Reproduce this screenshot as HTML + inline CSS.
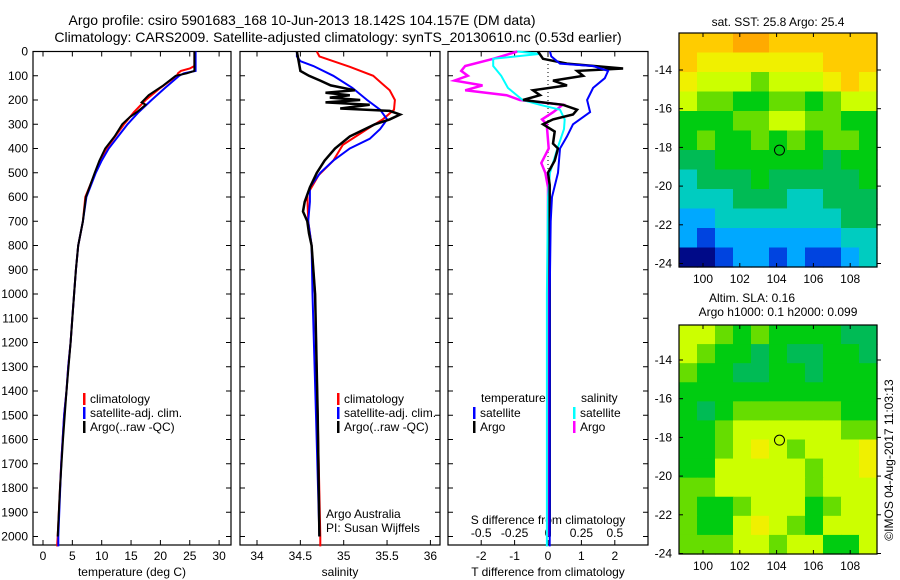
<!DOCTYPE html>
<html><head><meta charset="utf-8"><style>
body{margin:0;background:#fff;}
svg{display:block;font-family:"Liberation Sans",sans-serif;font-size:12px;}
</style></head><body>
<svg id="chart" width="900" height="580" viewBox="0 0 900 580">
<text x="302" y="25" text-anchor="middle" font-size="14">Argo profile: csiro 5901683_168 10-Jun-2013 18.142S 104.157E (DM data)</text>
<text x="338" y="42" text-anchor="middle" font-size="14">Climatology: CARS2009. Satellite-adjusted climatology: synTS_20130610.nc (0.53d earlier)</text>
<g id="g"></g>
</svg>
<script>
// ---- data ----
const depthTicks=[0,100,200,300,400,500,600,700,800,900,1000,1100,1200,1300,1400,1500,1600,1700,1800,1900,2000];
const tTicks=[0,5,10,15,20,25,30];
const sTicks=[34,34.5,35,35.5,36];
const dTTicks=[-2,-1,0,1,2];
const dSTicks=[-0.5,-0.25,0,0.25,0.5];
const tempDepth=[0,60,70,80,90,100,150,200,250,300,350,400,450,500,600,700,800,900,1000,1100,1200,1300,1400,1500,1700,2000,2041];
const tempClim=[25.8,25.8,25,23.5,23,22.8,20,17.5,15.5,13.8,12.3,10.8,9.8,8.9,7.2,6.8,6.0,5.6,5.3,5.0,4.7,4.3,4.0,3.6,3.1,2.5,2.4];
const tempSat=[26,26,26,26,24,23.2,20.8,18.5,16.3,14.4,12.8,11.2,10,9,7.4,6.8,6.0,5.6,5.3,5.0,4.7,4.3,4.0,3.6,3.1,2.6,2.6];
const argoTDepth=[0,80,90,100,140,180,210,220,250,270,300,350,400,450,500,600,700,800,900,1000,1200,1400,1600,1800,2000];
const tempArgo=[25.8,25.8,24.5,22.6,20.5,18,16.8,17.5,16,14.8,13.5,12.2,10.6,9.6,8.8,7.3,6.8,6.0,5.6,5.3,4.7,4.0,3.4,2.9,2.5];
const salClimDepth=[0,20,63,100,160,200,240,280,320,385,450,510,590,700,800,1000,1500,2000,2041];
const salClim=[34.69,34.72,35.07,35.34,35.53,35.59,35.58,35.45,35.27,34.99,34.88,34.71,34.58,34.59,34.63,34.67,34.7,34.73,34.73];
const salSatDepth=[0,20,40,60,100,150,200,240,280,320,360,400,450,500,560,620,700,800,1000,1500,2000];
const salSat=[34.46,34.46,34.5,34.65,34.88,35.1,35.27,35.42,35.5,35.42,35.3,35.07,34.88,34.73,34.61,34.61,34.59,34.63,34.64,34.68,34.72];
const salArgoDepth=[0,80,100,120,140,160,170,180,190,200,210,220,235,245,260,280,300,350,400,450,500,560,620,660,700,750,800,1000,1500,2000];
const salArgo=[34.46,34.5,34.6,34.73,34.85,35.13,34.79,35.07,34.84,35.19,34.79,35.3,34.96,35.53,35.65,35.53,35.36,35.07,34.9,34.78,34.69,34.61,34.55,34.53,34.58,34.6,34.63,34.67,34.7,34.72];
const dTSatDepth=[0,20,50,60,80,110,150,200,250,300,350,400,500,600,700,1000,2000,2041];
const dTSat=[0.06,0.1,0.36,1.35,1.8,1.7,1.35,1.17,1.26,0.75,0.57,0.36,0.3,0.12,0.08,0.05,0.05,0.05];
const dTArgoDepth=[0,30,50,70,80,100,120,140,160,180,200,220,240,260,280,300,330,380,400,450,500,550,700,1000,2000];
const dTArgo=[-0.3,-0.15,0.57,2.25,0.87,1.05,0.15,0.57,-0.45,-0.24,-0.75,0.45,0.87,0.75,0.15,-0.15,0.2,0.15,0.3,0.2,0,0.05,0.05,0.05,0.05];
const dSArgoDepth=[0,30,60,80,100,120,140,160,180,200,220,250,280,300,400,460,500,560,1000,2000];
const dSArgo=[-0.23,-0.41,-0.62,-0.65,-0.6,-0.7,-0.49,-0.62,-0.31,-0.21,0.11,0.04,-0.045,-0.01,0.005,-0.05,-0.02,0,0,0.005];
const dSSatDepth=[0,10,30,60,100,150,200,220,240,280,320,400,500,600,1000,2041];
const dSSat=[-0.23,-0.06,-0.41,-0.41,-0.35,-0.3,-0.19,-0.06,0.09,0.125,0.12,0.07,0.015,0,-0.008,-0.008];
const lonTicks=[100,102,104,106,108];
const latTicks=[-14,-16,-18,-20,-22,-24];
const sstGrid=[
[9,9,9,10,10,9,9,9,9,9,9],[9,8,8,8,8,8,8,8,9,9,9],[8,7,7,7,6,7,7,7,8,9,8],[7,6,6,5,5,6,6,5,6,7,7],
[5,5,5,6,6,7,7,6,6,5,5],[5,6,5,5,6,5,6,5,6,6,5],[4,4,5,5,5,5,5,5,4,5,5],[3,4,4,4,5,4,4,4,4,4,5],
[3,3,3,4,4,4,3,3,4,4,4],[2,2,3,3,3,3,3,3,3,4,4],[2,1,2,2,2,2,2,2,2,3,3],[0,0,1,2,2,1,2,1,1,2,3]];
const slaGrid=[
[7,7,6,5,6,5,5,5,5,4,4],[7,6,5,5,4,5,4,4,5,5,4],[6,5,5,4,4,5,5,4,5,5,5],[5,5,5,5,5,5,5,5,5,5,5],
[5,4,5,6,6,6,6,6,6,5,5],[5,5,6,7,7,7,7,7,7,6,6],[5,5,6,7,8,7,6,7,7,7,8],[5,5,7,7,7,7,7,6,7,7,8],
[6,6,7,7,7,7,7,6,7,7,7],[6,5,5,6,7,7,7,5,6,7,7],[6,5,5,7,8,7,6,5,7,7,7],[6,6,6,7,7,6,7,7,5,5,7]];
const argoLon=104.157, argoLat=-18.142;
// ---- drawing ----
const NS='http://www.w3.org/2000/svg';
const G=document.getElementById('g');
function mk(tag,at,txt,parent){const e=document.createElementNS(NS,tag);for(const k in at)e.setAttribute(k,at[k]);if(txt!=null)e.textContent=txt;(parent||G).appendChild(e);return e;}
const yD=d=>51.5+d*0.2425;
const PB=545;
const panels=[{x0:33,x1:231,sx:v=>43+v*5.87,ticks:tTicks,lab:'temperature (deg C)',n:'temperature'},
{x0:240,x1:440,sx:v=>257+(v-34)*86.7,ticks:sTicks,lab:'salinity',n:'salinity'},
{x0:448,x1:648,sx:v=>548+v*33.4,ticks:dTTicks,lab:'T difference from climatology',n:'difference'}];
panels.forEach((p,i)=>{
  const r=mk('rect',{x:p.x0,y:51.5,width:p.x1-p.x0,height:PB-51.5,fill:'none',stroke:'#000','stroke-width':1.2});
  
  
  depthTicks.forEach(d=>{const y=yD(d);
    mk('line',{x1:p.x0,x2:p.x0+5,y1:y,y2:y,stroke:'#000'});mk('line',{x1:p.x1,x2:p.x1-5,y1:y,y2:y,stroke:'#000'});
    if(i==0){const t=mk('text',{x:28,y:y+4,'text-anchor':'end'},String(d));
      
      }
  });
  p.ticks.forEach(v=>{const x=p.sx(v);
    mk('line',{x1:x,x2:x,y1:PB,y2:PB-5,stroke:'#000'});mk('line',{x1:x,x2:x,y1:51.5,y2:56.5,stroke:'#000'});
    const t=mk('text',{x:x,y:560,'text-anchor':'middle'},String(v));
    
    
  });
  const l=mk('text',{x:(p.x0+p.x1)/2,y:576,'text-anchor':'middle'},p.lab);
  
  
});
dSTicks.forEach(v=>{const t=mk('text',{x:panels[2].sx(v*4),y:537,'text-anchor':'middle'},String(v));
  
  });
{const t=mk('text',{x:548,y:524,'text-anchor':'middle'},'S difference from climatology');

}
mk('line',{x1:548,x2:548,y1:52,y2:PB,stroke:'#000','stroke-dasharray':'1,3'});
function prof(depths,vals,sx,col,name,w){
  const pts=depths.map((d,k)=>sx(vals[k]).toFixed(1)+','+yD(d).toFixed(1)).join(' ');
  const e=mk('polyline',{points:pts,fill:'none',stroke:col,'stroke-width':w||2,'stroke-linejoin':'miter'});
  
  
}
const P=panels;
prof(tempDepth,tempClim,P[0].sx,'#f00','temperature-climatology-line');
prof(tempDepth,tempSat,P[0].sx,'#00f','temperature-satellite-line');
prof(argoTDepth,tempArgo,P[0].sx,'#000','temperature-argo-line');
prof(salClimDepth,salClim,P[1].sx,'#f00','salinity-climatology-line');
prof(salSatDepth,salSat,P[1].sx,'#00f','salinity-satellite-line');
prof(salArgoDepth,salArgo,P[1].sx,'#000','salinity-argo-line',2.5);
const sS=v=>P[2].sx(v*4);
prof(dSArgoDepth,dSArgo,sS,'#f0f','s-diff-argo-line',2.5);
prof(dSSatDepth,dSSat,sS,'#0ff','s-diff-satellite-line');
prof(dTArgoDepth,dTArgo,P[2].sx,'#000','t-diff-argo-line',2.5);
prof(dTSatDepth,dTSat,P[2].sx,'#00f','t-diff-satellite-line');
function leg(x,y,col,txt,name){mk('rect',{x:x,y:y-9,width:2.5,height:12,fill:col});
  const t=mk('text',{x:x+7,y:y+1},txt);}
[[P[0],83],[P[1],337]].forEach(([p,x],i)=>{
  leg(x,402,'#f00','climatology','legend-climatology');leg(x,416,'#00f','satellite-adj. clim.','legend-satellite-adj');leg(x,430,'#000','Argo(..raw -QC)','legend-argo');});
{const t=mk('text',{x:481,y:402},'temperature');
const t2=mk('text',{x:581,y:402},'salinity');}
leg(473,416,'#00f','satellite','legend-t-satellite');leg(473,430,'#000','Argo','legend-t-argo');
leg(573,416,'#0ff','satellite','legend-s-satellite');leg(573,430,'#f0f','Argo','legend-s-argo');
{const t=mk('text',{x:326,y:518},'Argo Australia');
const t2=mk('text',{x:326,y:532},'PI: Susan Wijffels');}
const pal=['#000a88','#0044e0','#00a8ff','#00ccc0','#00bb55','#00cc11','#66dd00','#ccff00','#f0f000','#ffcc00','#ffaa00'];
function map(y0,y1,grid,name,cy){
  const x0=679,x1=877,lx=v=>703+(v-100)*18.4,ly=v=>cy+(-14-v)*19.35;
  const rows=grid.length,cols=grid[0].length,cw=(x1-x0)/cols,ch=(y1-y0)/rows;
  grid.forEach((row,r)=>row.forEach((v,c)=>{const e=mk('rect',{x:x0+c*cw,y:y0+r*ch,width:cw+0.6,height:ch+0.6,fill:pal[v]});
    }));
  const f=mk('rect',{x:x0,y:y0,width:x1-x0,height:y1-y0,fill:'none',stroke:'#000','stroke-width':1.2});
  
  lonTicks.forEach(v=>{const x=lx(v);mk('line',{x1:x,x2:x,y1:y0,y2:y0+4,stroke:'#000'});mk('line',{x1:x,x2:x,y1:y1,y2:y1-4,stroke:'#000'});
    const t=mk('text',{x:x,y:y1+16,'text-anchor':'middle'},String(v));});
  latTicks.forEach(v=>{const y=ly(v);mk('line',{x1:x0,x2:x0+4,y1:y,y2:y,stroke:'#000'});mk('line',{x1:x1,x2:x1+4,y1:y,y2:y,stroke:'#000'});
    const t=mk('text',{x:672,y:y+4,'text-anchor':'end'},String(v));});
  const c=mk('circle',{cx:lx(argoLon),cy:ly(argoLat),r:5,fill:'none',stroke:'#000'});
  
}
map(33,267,sstGrid,'sst-map',70);
map(325,554,slaGrid,'sla-map',360);
[['sat. SST: 25.8 Argo: 25.4',778,26,'sst-map-title'],['Altim. SLA: 0.16',752,302,'sla-map-title'],['Argo h1000: 0.1 h2000: 0.099',778,316,'sla-map-subtitle']].forEach(a=>{
  const t=mk('text',{x:a[1],y:a[2],'text-anchor':'middle'},a[0]);});
{const t=mk('text',{x:0,y:0,'text-anchor':'middle',transform:'translate(893,460) rotate(-90)'},'©IMOS 04-Aug-2017 11:03:13');
}
</script>
</body></html>
